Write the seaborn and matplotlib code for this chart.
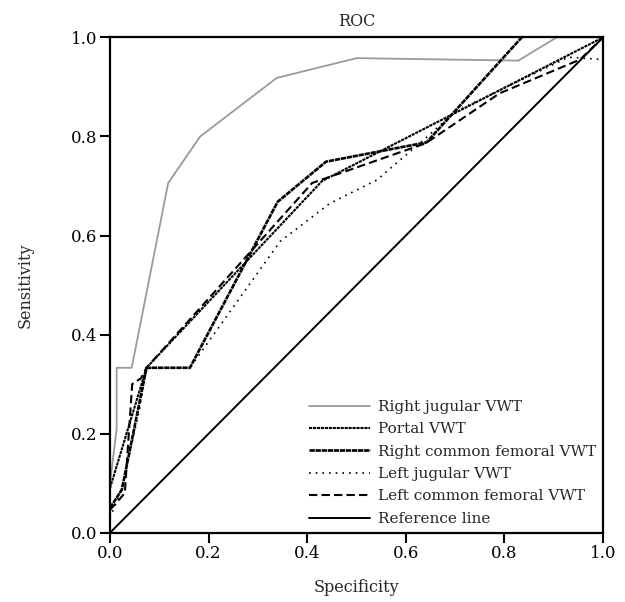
import pandas as pd
import seaborn as sns
import matplotlib.pyplot as plt

# ROC curves (1 - specificity style axis labelled "Specificity")
rj_fpr = [0.0, 0.0135, 0.0135, 0.044, 0.118, 0.183, 0.338, 0.5, 0.828, 0.906, 1.0]
rj_tpr = [0.1, 0.21, 0.333, 0.333, 0.706, 0.8, 0.918, 0.958, 0.953, 1.0, 1.0]

portal_fpr = [0.0, 0.074, 0.43, 1.0]
portal_tpr = [0.09, 0.333, 0.71, 1.0]

rcf_fpr = [0.0, 0.024, 0.074, 0.162, 0.34, 0.438, 0.642, 0.835]
rcf_tpr = [0.05, 0.087, 0.333, 0.333, 0.668, 0.749, 0.788, 1.0]

lj_fpr = [0.0, 0.024, 0.06, 0.074, 0.162, 0.345, 0.446, 0.541, 0.636, 0.70, 0.93, 1.0]
lj_tpr = [0.03, 0.09, 0.25, 0.333, 0.333, 0.588, 0.665, 0.712, 0.793, 0.85, 0.96, 0.955]

lcf_fpr = [0.0, 0.03, 0.045, 0.063, 0.074, 0.41, 0.64, 0.79, 0.953, 1.0]
lcf_tpr = [0.046, 0.08, 0.30, 0.312, 0.333, 0.706, 0.786, 0.887, 0.955, 1.0]

ref_fpr = [0.0, 1.0]
ref_tpr = [0.0, 1.0]

series = [
    ("Right jugular VWT", rj_fpr, rj_tpr, "#9a9a9a", "-", 1.3),
    ("Portal VWT", portal_fpr, portal_tpr, "black", (0, (1.5, 0.4)), 1.5),
    ("Right common femoral VWT", rcf_fpr, rcf_tpr, "black", (0, (2, 0.3)), 1.9),
    ("Left jugular VWT", lj_fpr, lj_tpr, "black", (0, (1, 3)), 1.2),
    ("Left common femoral VWT", lcf_fpr, lcf_tpr, "black", (0, (4, 2)), 1.5),
    ("Reference line", ref_fpr, ref_tpr, "black", "-", 1.4),
]

sns.set_style("ticks")
plt.rcParams['font.family'] = ['DejaVu Serif']

fig, ax = plt.subplots(figsize=(6.25, 6.02), dpi=100)
fig.subplots_adjust(left=0.176, right=0.965, top=0.938, bottom=0.115)

for name, fpr, tpr, color, ls, lw in series:
    df = pd.DataFrame({"Specificity": fpr, "Sensitivity": tpr})
    sns.lineplot(data=df, x="Specificity", y="Sensitivity", sort=False,
                 estimator=None, color=color, linestyle=ls, linewidth=lw,
                 label=name, ax=ax)

ax.set_xlim(0, 1)
ax.set_ylim(0, 1)
ax.set_xticks([0.0, 0.2, 0.4, 0.6, 0.8, 1.0])
ax.set_yticks([0.0, 0.2, 0.4, 0.6, 0.8, 1.0])
ax.xaxis.set_major_formatter(plt.FormatStrFormatter('%.1f'))
ax.yaxis.set_major_formatter(plt.FormatStrFormatter('%.1f'))
ax.tick_params(direction='out', length=7, width=1.5, pad=2, labelsize=12, colors='black')
for s in ax.spines.values():
    s.set_visible(True)
    s.set_linewidth(1.6)
    s.set_color('black')

ax.set_title("ROC", fontsize=11.5, pad=8)
ax.set_xlabel("Specificity", fontsize=11.5, labelpad=12)
ax.set_ylabel("Sensitivity", fontsize=11.5, labelpad=27)

ax.legend(loc='lower right', frameon=False, fontsize=11, handlelength=4.0,
          handletextpad=0.5, labelspacing=0.55, borderaxespad=0.05)

plt.savefig("out.png", dpi=100)
plt.close()
